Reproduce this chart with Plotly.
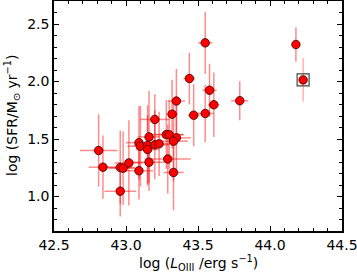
import plotly.graph_objects as go

# log L_OIII (erg/s), log SFR (Msun/yr) and symmetric errors
log_L = [42.81, 42.84, 42.96, 42.98, 43.02, 42.96, 43.09, 43.09, 43.10, 43.15,
         43.15, 43.16, 43.16, 43.20, 43.20, 43.23, 43.28, 43.30, 43.35, 43.33,
         43.29, 43.33, 43.32, 43.35, 43.44, 43.47, 43.55, 43.58, 43.61, 43.55,
         43.79, 44.18]
log_SFR = [1.40, 1.255, 1.252, 1.246, 1.292, 1.046, 1.224, 1.468, 1.437, 1.444,
           1.409, 1.298, 1.518, 1.670, 1.450, 1.458, 1.539, 1.537, 1.510, 1.481,
           1.326, 1.209, 1.716, 1.830, 2.026, 1.707, 2.336, 1.924, 1.798, 1.722,
           1.833, 2.322]
err_L = [0.13, 0.10, 0.10, 0.10, 0.10, 0.11, 0.10, 0.09, 0.09, 0.10,
         0.08, 0.12, 0.08, 0.10, 0.10, 0.12, 0.12, 0.10, 0.10, 0.10,
         0.16, 0.07, 0.04, 0.06, 0.04, 0.04, 0.05, 0.05, 0.04, 0.06,
         0.06, 0.0]
err_SFR = [0.315, 0.275, 0.32, 0.32, 0.37, 0.22, 0.25, 0.32, 0.35, 0.35,
           0.30, 0.25, 0.40, 0.22, 0.30, 0.28, 0.30, 0.30, 0.28, 0.35,
           0.30, 0.33, 0.30, 0.28, 0.225, 0.27, 0.27, 0.23, 0.28, 0.25,
           0.17, 0.15]

# highlighted (boxed) source
box_L = [44.23]
box_SFR = [2.014]
box_err_SFR = [0.19]

x_title = "log (<i>L</i><sub>OIII</sub> /erg s<sup>\u22121</sup>)"
y_title = "log (SFR/M<sub>\u2299</sub> yr<sup>\u22121</sup>)"

fig = go.Figure()

fig.add_trace(go.Scatter(
    x=log_L, y=log_SFR, mode="markers",
    error_x=dict(type="data", array=err_L, color="rgba(255,0,0,0.45)",
                 thickness=1.5, width=0),
    error_y=dict(type="data", array=err_SFR, color="rgba(255,0,0,0.45)",
                 thickness=1.5, width=0),
    marker=dict(color="#ff0000", size=8.5, line=dict(color="#3a0000", width=0.8)),
    showlegend=False,
))

fig.add_trace(go.Scatter(
    x=box_L, y=box_SFR, mode="markers",
    error_y=dict(type="data", array=box_err_SFR, color="rgba(255,0,0,0.3)",
                 thickness=1.5, width=0),
    marker=dict(color="#ff0000", size=8.5, line=dict(color="#3a0000", width=0.8)),
    showlegend=False,
))

fig.add_trace(go.Scatter(
    x=box_L, y=box_SFR, mode="markers",
    marker=dict(symbol="square-open", size=12, color="#444444",
                line=dict(color="#444444", width=1.2)),
    showlegend=False,
))

axis_common = dict(
    showgrid=False, zeroline=False, showline=True, linecolor="black",
    linewidth=1.5, mirror="ticks", ticks="inside", ticklen=5, tickwidth=1,
    tickcolor="black", automargin=False, ticklabeloverflow="allow",
    tickfont=dict(family="DejaVu Sans", size=14, color="black"),
)

fig.update_xaxes(
    range=[42.5, 44.5], dtick=0.5, tick0=42.5, tickformat=".1f",
    minor=dict(ticks="inside", ticklen=3, tickwidth=1, tickcolor="black", dtick=0.1),
    **axis_common,
)
fig.update_yaxes(
    range=[0.7, 2.7], dtick=0.5, tick0=1.0, tickformat=".1f",
    minor=dict(ticks="inside", ticklen=3, tickwidth=1, tickcolor="black", dtick=0.1),
    **axis_common,
)

fig.add_annotation(text=x_title, xref="paper", yref="paper", x=0.5, y=0,
                   xanchor="center", yanchor="middle", yshift=-32, showarrow=False,
                   font=dict(family="DejaVu Sans", size=14, color="black"))
fig.add_annotation(text=y_title, xref="paper", yref="paper", x=0, y=0.5,
                   xanchor="center", yanchor="middle", xshift=-42, textangle=-90,
                   showarrow=False,
                   font=dict(family="DejaVu Sans", size=14, color="black"))

fig.update_layout(
    width=357, height=272,
    margin=dict(l=54, r=15, t=1, b=41, pad=0),
    paper_bgcolor="white", plot_bgcolor="white",
)

fig.write_html(
    "out.html",
    config={"displayModeBar": False},
    post_script="document.body.style.margin='0';document.body.style.padding='0';"
                "document.body.style.overflow='hidden';",
)
